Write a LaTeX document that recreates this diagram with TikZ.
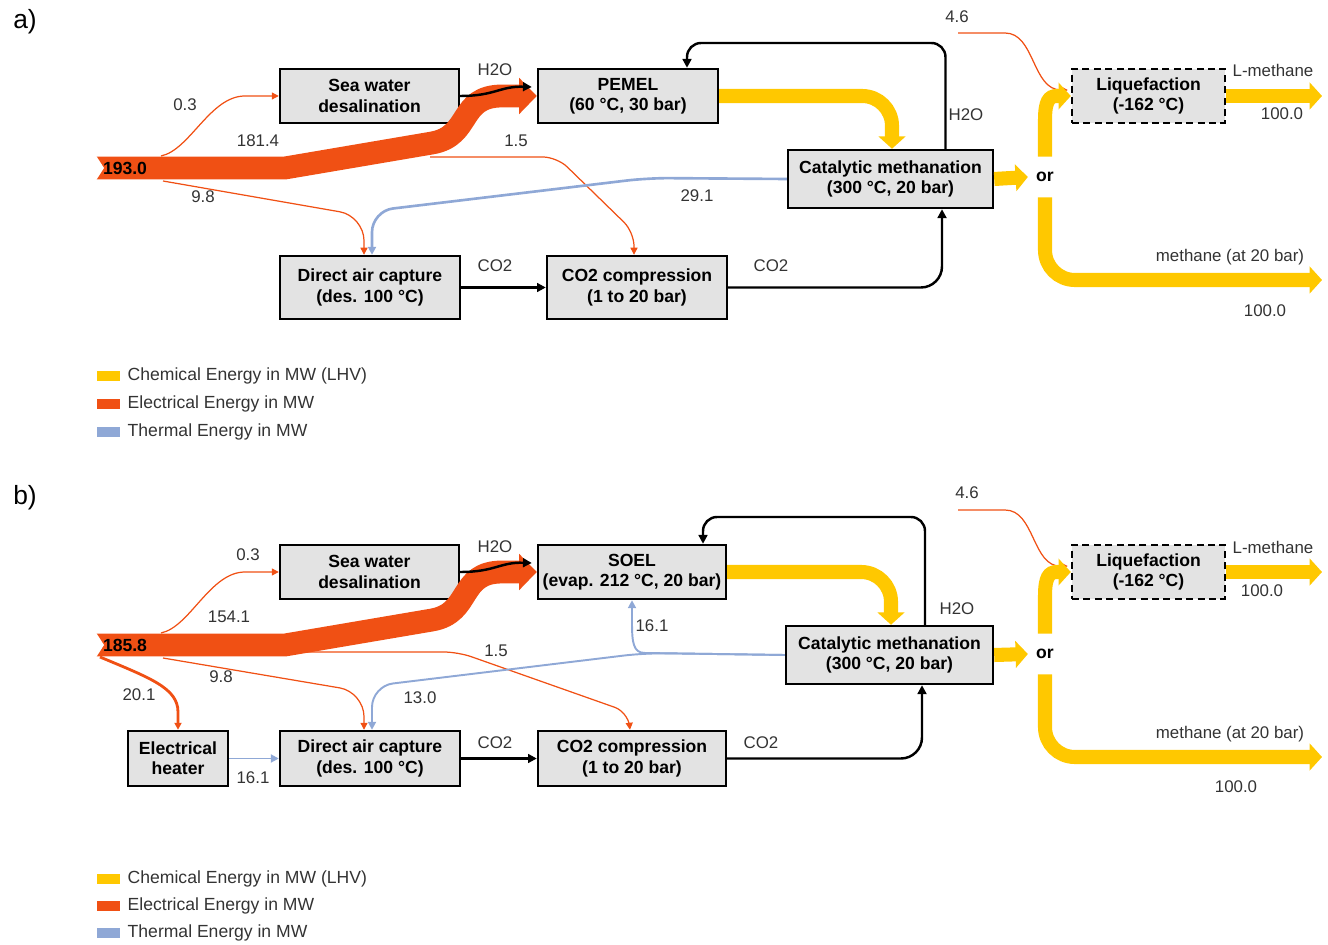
\documentclass[tikz,border=0pt]{standalone}
\usepackage{fontspec}
\setmainfont{Liberation Sans}
\usetikzlibrary{arrows.meta,positioning,calc}
\definecolor{elecred}{HTML}{F05014}
\definecolor{chemyellow}{HTML}{FFC800}
\definecolor{thermblue}{HTML}{8FA8D6}
\definecolor{boxgray}{HTML}{E3E3E3}
\definecolor{valgray}{HTML}{333333}
\tikzset{
  proc/.style={draw=black,line width=1.4pt,fill=boxgray,align=center,font=\fontsize{10}{11.5}\selectfont\bfseries,inner sep=2pt},
  procdash/.style={proc,dash pattern=on 4pt off 2.5pt},
  val/.style={font=\fontsize{9.6}{11}\selectfont,text=valgray,inner sep=1pt},
  total/.style={font=\fontsize{10}{11}\selectfont\bfseries,text=black,inner sep=0pt},
  ornode/.style={font=\fontsize{10}{11}\selectfont\bfseries,inner sep=0pt,minimum height=0.8cm},
  panel/.style={font=\fontsize{15}{17}\selectfont,inner sep=0pt},
  chip/.style={minimum width=0.46cm,minimum height=0.19cm,inner sep=0pt},
  keytxt/.style={font=\fontsize{10}{11}\selectfont,text=valgray,inner sep=1pt},
  elecband/.style={draw=elecred,line width=13pt,-{Triangle[length=10pt,width=20pt]}},
  chemband/.style={draw=chemyellow,line width=8pt,-{Triangle[length=7pt,width=15pt]}},
  elecline/.style={draw=elecred,line width=0.7pt,-{Triangle[length=4pt,width=4pt]}},
  thermline/.style={draw=thermblue,line width=1.5pt,-{Triangle[length=4.5pt,width=4.5pt]}},
  mass/.style={draw=black,line width=1.4pt,-{Triangle[length=5pt,width=5pt]}},
}

\begin{document}
\begin{tikzpicture}[x=0.02cm,y=-0.02cm]
  \useasboundingbox (0,0) rectangle (1328,945);

  % ---------- a) PEMEL ----------
  \node[panel] (tagA) at (25,22) {a)};
  \node[proc,minimum width=3.58cm,minimum height=1.08cm] (seaA) at (369.5,96) {Sea water\\desalination};
  \node[proc,minimum width=3.6cm,minimum height=1.08cm] (pemA) at (628,96) {PEMEL\\(60 °C, 30 bar)};
  \node[proc,minimum width=4.1cm,minimum height=1.16cm] (metA) at (890.5,179) {Catalytic methanation\\(300 °C, 20 bar)};
  \node[procdash,minimum width=3.06cm,minimum height=1.08cm] (liqA) at (1148.5,96) {Liquefaction\\(-162 °C)};
  \node[proc,minimum width=3.6cm,minimum height=1.26cm] (dacA) at (370,287.5) {Direct air capture\\(des. 100 °C)};
  \node[proc,minimum width=3.6cm,minimum height=1.26cm] (ccA) at (637,287.5) {CO2 compression\\(1 to 20 bar)};
  \node[ornode] (orA) at (1045,177) {or};

  \coordinate (srcA) at (95,168);
  \coordinate (e03A) at (161,156);
  \coordinate (e98A) at (163,181);
  \coordinate (e15A) at (430,157);
  \coordinate (q46A) at (958,33);
  \coordinate (lmA) at (1322,96);
  \coordinate (ch4A) at (1322,280);

  \draw[elecline] (e03A) .. controls (190,150) and (210,96) .. (245,96) -- (seaA.west);
  \draw[elecline,rounded corners=14pt] (e98A) -- (364,216) -- ($(dacA.north)+(-6,0)$);
  \draw[elecline,rounded corners=8pt] (e15A) -- (557,157) -- (634,232) -- ($(ccA.north)+(-3,0)$);
  \draw[thermline,rounded corners=12pt] (metA.west) -- (648,178) -- (372,211) -- ($(dacA.north)+(2,0)$);
  \draw[elecline] (q46A) -- (1005,33) .. controls (1035,33) and (1032,90) .. ($(liqA.west)+(-3,-6)$);

  \draw[elecband] (srcA) -- (285,168) -- (432,143) .. controls (472,136) and (458,96) .. (502,96) -- (pemA.west);
  \fill[white] (srcA) ++(0,-14) -- ++(9,14) -- ++(-9,14) -- cycle;
  \node[total] (totA) at (125,168) {193.0};

  \draw[mass] (seaA.east) .. controls (495,96) and (500,86) .. ($(pemA.west)+(-5,-9)$);
  \draw[mass,rounded corners=8pt] ($(metA.north)+(55,0)$) -- (945.5,43) -- (687,43) -- ($(pemA.north)+(59,0)$);
  \draw[mass] (dacA.east) -- (ccA.west);
  \draw[mass,rounded corners=12pt] (ccA.east) -- (942,287.5) -- ($(metA.south)+(51.5,0)$);

  \draw[chemband,rounded corners=17pt] (pemA.east) -- (892,96) -- ($(metA.north)+(1.5,0)$);
  \draw[chemband] (metA.east) -- ($(orA.west)+(-8,0)$);
  \draw[chemband] (orA.north) -- (1045,120) .. controls (1045,101) and (1049,96) .. (1057,96) -- (liqA.west);
  \draw[chemband,rounded corners=17pt] (orA.south) -- (1045,280) -- (ch4A);
  \draw[chemband] (liqA.east) -- (lmA);

  \node[val] (v03A) at (185,105) {0.3};
  \node[val] (v181A) at (258,141) {181.4};
  \node[val] (v15A) at (516,141) {1.5};
  \node[val] (v98A) at (203,197) {9.8};
  \node[val] (v291A) at (697,196) {29.1};
  \node[val] (h2oA) at (495,70) {H2O};
  \node[val] (h2orA) at (966,115) {H2O};
  \node[val] (v46A) at (957,17) {4.6};
  \node[val] (lmtA) at (1273,70) {L-methane};
  \node[val] (v100lA) at (1282,114) {100.0};
  \node[val] (mtA) at (1230,257) {methane (at 20 bar)};
  \node[val] (v100mA) at (1265,311) {100.0};
  \node[val] (co2aA) at (495,266) {CO2};
  \node[val] (co2bA) at (771,266) {CO2};

  \node[chip,fill=chemyellow] (kChemA) at (108.5,376) {};
  \node[keytxt,right=3pt of kChemA] (tChemA) {Chemical Energy in MW (LHV)};
  \node[chip,fill=elecred] (kElecA) at (108.5,404) {};
  \node[keytxt,right=3pt of kElecA] (tElecA) {Electrical Energy in MW};
  \node[chip,fill=thermblue] (kThermA) at (108.5,432) {};
  \node[keytxt,right=3pt of kThermA] (tThermA) {Thermal Energy in MW};

  % ---------- b) SOEL ----------
  \node[panel] (tagB) at (25,498) {b)};
  \node[proc,minimum width=3.58cm,minimum height=1.08cm] (seaB) at (369.5,572) {Sea water\\desalination};
  \node[proc,minimum width=3.76cm,minimum height=1.08cm] (sobB) at (632,572) {SOEL\\(evap. 212 °C, 20 bar)};
  \node[proc,minimum width=4.14cm,minimum height=1.16cm] (metB) at (889.5,655) {Catalytic methanation\\(300 °C, 20 bar)};
  \node[procdash,minimum width=3.06cm,minimum height=1.08cm] (liqB) at (1148.5,572) {Liquefaction\\(-162 °C)};
  \node[proc,minimum width=2cm,minimum height=1.1cm] (htB) at (178,758.5) {Electrical\\heater};
  \node[proc,minimum width=3.6cm,minimum height=1.1cm] (dacB) at (370,758.5) {Direct air capture\\(des. 100 °C)};
  \node[proc,minimum width=3.76cm,minimum height=1.1cm] (ccB) at (632,758.5) {CO2 compression\\(1 to 20 bar)};
  \node[ornode] (orB) at (1045,654) {or};

  \coordinate (srcB) at (95,645);
  \coordinate (e03B) at (161,633);
  \coordinate (e98B) at (163,658);
  \coordinate (e201B) at (100,657);
  \coordinate (e15B) at (300,652);
  \coordinate (jB) at (645,653);
  \coordinate (q46B) at (958,510);
  \coordinate (lmB) at (1322,572);
  \coordinate (ch4B) at (1322,757);

  \draw[elecline] (e03B) .. controls (190,627) and (210,572) .. (245,572) -- (seaB.west);
  \draw[elecline,rounded corners=14pt] (e98B) -- (364,692) -- ($(dacB.north)+(-6,0)$);
  \draw[elecline,rounded corners=8pt] (e15B) -- (458,652) -- (628,712) -- ($(ccB.north)+(-2,0)$);
  \draw[elecline,line width=1.6pt] (e201B) .. controls (150,678) and (178,688) .. (178,712) -- (htB.north);
  \draw[thermline,line width=1.1pt,rounded corners=12pt] (metB.west) -- (jB) -- (372,686) -- ($(dacB.north)+(2,0)$);
  \draw[thermline,line width=1.1pt] (metB.west) -- (jB) .. controls (633,653) and (632,642) .. (632,622) -- (sobB.south);
  \draw[thermline,line width=1.1pt] (htB.east) -- (dacB.west);
  \draw[elecline] (q46B) -- (1005,510) .. controls (1035,510) and (1032,567) .. ($(liqB.west)+(-3,-6)$);

  \draw[elecband] (srcB) -- (285,645) -- (432,620) .. controls (472,613) and (458,572) .. (502,572) -- (sobB.west);
  \fill[white] (srcB) ++(0,-14) -- ++(9,14) -- ++(-9,14) -- cycle;
  \node[total] (totB) at (125,645) {185.8};

  \draw[mass] (seaB.east) .. controls (495,572) and (500,562) .. ($(sobB.west)+(-5,-9)$);
  \draw[mass,rounded corners=8pt] ($(metB.north)+(35.5,0)$) -- (925,517) -- (703,517) -- ($(sobB.north)+(71,0)$);
  \draw[mass] (dacB.east) -- (ccB.west);
  \draw[mass,rounded corners=12pt] (ccB.east) -- (922,758.5) -- ($(metB.south)+(32.5,0)$);

  \draw[chemband,rounded corners=17pt] (sobB.east) -- (891,572) -- ($(metB.north)+(1.5,0)$);
  \draw[chemband] (metB.east) -- ($(orB.west)+(-8,0)$);
  \draw[chemband] (orB.north) -- (1045,596) .. controls (1045,577) and (1049,572) .. (1057,572) -- (liqB.west);
  \draw[chemband,rounded corners=17pt] (orB.south) -- (1045,757) -- (ch4B);
  \draw[chemband] (liqB.east) -- (lmB);

  \node[val] (v03B) at (248,555) {0.3};
  \node[val] (v154B) at (229,617) {154.1};
  \node[val] (v15B) at (496,651) {1.5};
  \node[val] (v98B) at (221,677) {9.8};
  \node[val] (v201B) at (139,695) {20.1};
  \node[val] (v130B) at (420,698) {13.0};
  \node[val] (v161sB) at (652,626) {16.1};
  \node[val] (v161hB) at (253,778) {16.1};
  \node[val] (h2oB) at (495,547) {H2O};
  \node[val] (h2orB) at (957,609) {H2O};
  \node[val] (v46B) at (967,493) {4.6};
  \node[val] (lmtB) at (1273,547) {L-methane};
  \node[val] (v100lB) at (1262,591) {100.0};
  \node[val] (mtB) at (1230,734) {methane (at 20 bar)};
  \node[val] (v100mB) at (1236,787) {100.0};
  \node[val] (co2aB) at (495,743) {CO2};
  \node[val] (co2bB) at (761,743) {CO2};

  \node[chip,fill=chemyellow] (kChemB) at (108.5,879) {};
  \node[keytxt,right=3pt of kChemB] (tChemB) {Chemical Energy in MW (LHV)};
  \node[chip,fill=elecred] (kElecB) at (108.5,906) {};
  \node[keytxt,right=3pt of kElecB] (tElecB) {Electrical Energy in MW};
  \node[chip,fill=thermblue] (kThermB) at (108.5,933) {};
  \node[keytxt,right=3pt of kThermB] (tThermB) {Thermal Energy in MW};
\end{tikzpicture}
\end{document}
